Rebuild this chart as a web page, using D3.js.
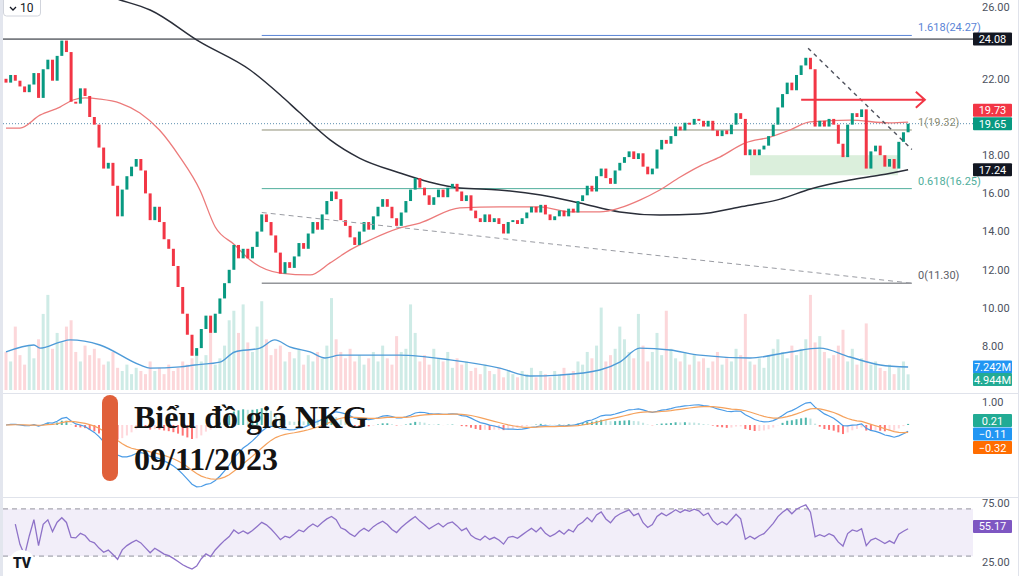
<!DOCTYPE html>
<html>
<head>
<meta charset="utf-8">
<script src="https://cdn.jsdelivr.net/npm/d3@7"></script>
<style>
  html, body { margin: 0; padding: 0; background: #fff; }
  svg { display: block; font-family: Roboto, "Noto Sans", sans-serif; }
</style>
</head>
<body>
<div id="chart"></div>
<script>
// daily closes (open = previous close)
const firstOpen = 22.0;
const closes = [
  21.8, 22.2, 21.9, 21.6, 21.3, 21.7, 22.3, 21.0, 22.5, 23.0,
  21.9, 23.2, 24.0, 23.4, 20.8, 20.7, 21.5, 21.1, 20.0, 19.6,
  18.4, 17.3, 17.6, 16.4, 14.8, 16.2, 16.9, 17.4, 17.8, 17.2,
  16.0, 14.6, 15.3, 14.5, 13.6, 13.1, 12.2, 11.1, 9.7, 8.6,
  7.5, 7.9, 8.9, 9.6, 8.7, 9.7, 10.5, 11.3, 12.0, 13.3,
  12.6, 13.1, 12.6, 13.2, 14.0, 14.9, 14.5, 13.8, 12.9, 11.8,
  12.4, 12.1, 12.7, 13.4, 13.1, 13.9, 14.5, 14.1, 14.9, 15.6,
  16.1, 15.7, 14.6, 14.3, 13.7, 13.3, 14.0, 14.5, 14.1, 14.8,
  15.3, 15.7, 15.3, 14.7, 14.3, 15.0, 15.6, 16.2, 16.8, 16.3,
  15.9, 15.4, 15.8, 16.2, 15.8, 16.3, 16.5, 16.1, 15.6, 15.9,
  15.1, 14.7, 14.5, 14.9, 14.5, 14.7, 14.4, 13.9, 14.5, 14.6,
  14.4, 14.7, 15.0, 15.3, 15.0, 15.4, 14.9, 14.6, 14.8, 15.1,
  14.8, 15.2, 15.0, 15.6, 15.9, 16.4, 16.1, 16.9, 17.3, 16.8,
  16.5, 17.2, 17.6, 17.9, 18.2, 17.8, 18.1, 17.4, 17.0, 17.3,
  18.3, 18.8, 18.6, 19.0, 19.5, 19.3, 19.7, 19.6, 19.9, 19.8,
  19.5, 19.8, 19.3, 19.0, 19.3, 19.1, 19.6, 20.2, 19.9, 18.0,
  18.3, 18.0, 18.3, 18.5, 19.0, 19.6, 20.5, 21.2, 21.8, 21.4,
  22.2, 22.7, 23.1, 22.5, 19.5, 19.8, 19.5, 19.9, 19.6, 18.6,
  17.9, 19.6, 20.2, 20.0, 20.4, 17.3, 18.2, 18.5, 18.0, 17.4,
  17.8, 17.3, 18.7, 19.2, 19.65
];

// volume in millions
const volumes = [
  12, 9, 20, 11, 8, 14, 10, 16, 24, 30,
  13, 18, 15, 20, 22, 12, 9, 14, 11, 13,
  10, 8, 9, 12, 7, 6, 8, 5, 7, 6,
  5, 9, 6, 7, 5, 8, 6, 7, 9, 8,
  10, 12, 9, 11, 19, 8, 10, 14, 22, 25,
  18, 27, 15, 12, 20, 28, 16, 11, 13, 14,
  9, 12, 10, 13, 8, 11, 9, 12, 10, 14,
  29, 16, 12, 10, 13, 9, 11, 8, 10, 12,
  9, 14, 10, 8, 17, 12, 13, 27, 18, 9,
  11, 8, 13, 10, 9, 12, 7, 10, 8, 9,
  6, 7, 5, 8, 6, 5, 7, 4, 6, 5,
  4, 6, 5, 7, 4, 6, 5, 4, 6, 5,
  7, 5, 6, 9, 8, 12, 10, 14, 26, 9,
  11, 13, 20, 16, 12, 10, 24, 14, 9, 12,
  18, 11, 25, 13, 10, 9, 12, 8, 11, 9,
  10, 7, 9, 12, 8, 10, 9, 13, 11, 24,
  9, 8, 10, 7, 11, 13, 16, 12, 10, 14,
  11, 13, 16, 30, 15, 17, 12, 10, 11, 14,
  19, 9, 13, 8, 10, 21, 8, 9, 7, 6,
  8, 5, 7, 9, 4.944
];

// moving averages: [bar index, value]
const maFast = [
  [0, 19.42], [3, 19.42], [7.3, 20.1], [11.6, 20.52], [14.4, 20.89], [17, 21.0],
  [20.2, 20.94], [24.5, 20.73], [28.8, 20.21], [33, 19.32], [37.4, 17.9],
  [41.7, 16.18], [45, 14.24], [49.2, 13.3], [52.5, 12.51], [59, 11.83],
  [65.4, 11.73], [69.7, 12.36], [74, 13.04], [78.3, 13.56], [84.7, 14.19],
  [89, 14.45], [97.6, 15.24], [106.2, 15.29], [114.8, 15.29], [121.3, 15.03],
  [127.7, 15.03], [132, 15.24], [136.3, 15.65], [140.6, 16.18], [145, 16.86],
  [149.2, 17.43], [153.5, 17.9], [159, 18.64], [164.3, 18.95], [168.6, 19.32],
  [172.9, 19.74], [181.5, 19.84], [190, 19.69], [194, 19.73]
];
const maSlow = [
  [18, 26.6], [24.5, 26.13], [31, 25.6], [41.7, 23.93], [52.5, 22.46], [59, 21.15],
  [63, 20.26], [69.7, 18.8], [76, 17.85], [84.7, 17.07], [91, 16.6],
  [97.6, 16.28], [106, 16.18], [115, 15.92], [123.4, 15.5], [132, 15.03],
  [140.6, 14.87], [149, 14.92], [157.8, 15.29], [166.5, 15.7], [173, 16.23],
  [181.5, 16.7], [188, 16.96], [194, 17.24]
];
const volMA = [
  [0, 12.0], [6, 14.2], [7.3, 13.2], [11.6, 15.1], [13.8, 15.8], [20.2, 14.2],
  [28.8, 7.9], [31, 6.9], [37.4, 7.3], [40.6, 7.9], [46, 8.8], [49.2, 12.0],
  [54.6, 13.2], [57.8, 15.8], [61, 13.6], [65.4, 12.0], [68.6, 10.1], [71.8, 11.0],
  [84.7, 11.0], [95.5, 9.5], [106.2, 6.9], [112.7, 4.4], [119, 4.7], [127.7, 6.3],
  [132, 8.8], [136.3, 13.2], [142.8, 12.6], [149.2, 11.0], [160, 10.1],
  [168.6, 12.0], [175, 13.2], [181.5, 10.4], [188, 7.9], [194, 7.242]
];

// fibonacci retracement levels
const fibRatios = ["0", "0.618", "1", "1.618"];
const fibPrices = [11.30, 16.25, 19.32, 24.27];
const fibColors = ["#5d6066", "#4fae9c", "#8f8f76", "#5a84d6"];

// drawings: [bar index, price]
const trendDown = [[172.5, 23.6], [194.8, 18.3]];
const trendBase = [[55, 15.0], [194.8, 11.3]];
const zoneBox = [[160, 18.0], [191.8, 16.95]];
const arrowLine = [[171, 20.9], [197.6, 20.9]];
const resistance = 24.08;

const priceTicks = [26, 22, 18, 16, 14, 12, 10, 8];
const macdTicks = [1.0];
const rsiTicks = [75, 25];
const rsiBand = [70, 30];
const macdTags = [["0.21", "#22ab94"], ["\u22120.11", "#2196f3"], ["\u22120.32", "#ff6d00"]];
const macdTagValues = [0.21, -0.11, -0.32];
const rsiLast = 55.17;
const titleLines = ["Biểu đồ giá NKG", "09/11/2023"];

// ---------------------------------------------------------------
const W = 1024, H = 576;
const up = "#089981", down = "#f23645";

const svg = d3.select("#chart").append("svg")
  .attr("width", W).attr("height", H);

const x = d3.scaleLinear().domain([0, 194]).range([6, 908.1]);
const y = d3.scaleLinear().domain([8, 26]).range([346.2, 2.4]);
const yVol = d3.scaleLinear().domain([0, 30]).range([390, 294.9]);
const yMacd = d3.scaleLinear().domain([0, 1]).range([425, 404]);
const yRsi = d3.scaleLinear().domain([25, 75]).range([562, 503]);

const defs = svg.append("defs");
function clip(id, y0, y1) {
  defs.append("clipPath").attr("id", id)
    .append("rect").attr("x", 3).attr("y", y0).attr("width", 970).attr("height", y1 - y0);
}
clip("cp-price", 0, 392);
clip("cp-macd", 394, 496);
clip("cp-rsi", 498, 576);

// left edge strip and pane separators
svg.append("rect").attr("x", 0).attr("y", 0).attr("width", 3).attr("height", H).attr("fill", "#e3e6ee");
[393.5, 497.5].forEach(v => {
  svg.append("line").attr("x1", 3).attr("x2", 1018).attr("y1", v).attr("y2", v)
    .attr("stroke", "#e0e3eb");
});
svg.append("line").attr("x1", 1018.5).attr("x2", 1018.5).attr("y1", 0).attr("y2", H)
  .attr("stroke", "#e0e3eb");

const opens = closes.map((c, i) => i === 0 ? firstOpen : closes[i - 1]);
const isUp = i => closes[i] >= opens[i];

// ---------- price + volume pane ----------
const pane = svg.append("g").attr("clip-path", "url(#cp-price)");

pane.append("g").selectAll("rect").data(volumes).join("rect")
  .attr("x", (d, i) => x(i) - 1.5)
  .attr("width", 3)
  .attr("y", d => yVol(d))
  .attr("height", d => yVol(0) - yVol(d))
  .attr("fill", (d, i) => isUp(i) ? up : down)
  .attr("opacity", 0.2);

const lineIdx = d3.line().x(d => x(d[0])).curve(d3.curveMonotoneX);

pane.append("path").datum(volMA)
  .attr("d", lineIdx.y(d => yVol(d[1])))
  .attr("fill", "none").attr("stroke", "#4e9bd8").attr("stroke-width", 1.4);

// resistance line + current price dotted line
pane.append("line").attr("x1", 3).attr("x2", 973)
  .attr("y1", y(resistance)).attr("y2", y(resistance))
  .attr("stroke", "#131722").attr("stroke-width", 1);
pane.append("line").attr("x1", 3).attr("x2", 973)
  .attr("y1", y(closes[closes.length - 1])).attr("y2", y(closes[closes.length - 1]))
  .attr("stroke", "#5d8fb0").attr("stroke-width", 1).attr("stroke-dasharray", "1,2");

// fib levels
fibPrices.forEach((p, k) => {
  pane.append("line").attr("x1", x(trendBase[0][0])).attr("x2", x(194.8))
    .attr("y1", y(p)).attr("y2", y(p))
    .attr("stroke", fibColors[k]).attr("stroke-width", 1);
  svg.append("text").attr("x", 918).attr("y", y(p) - 4)
    .attr("font-size", 11).attr("fill", fibColors[k])
    .text(`${fibRatios[k]}(${p.toFixed(2)})`);
});

// zone box
pane.append("rect")
  .attr("x", x(zoneBox[0][0])).attr("width", x(zoneBox[1][0]) - x(zoneBox[0][0]))
  .attr("y", y(zoneBox[0][1])).attr("height", y(zoneBox[1][1]) - y(zoneBox[0][1]))
  .attr("fill", "#4caf50").attr("opacity", 0.2);

// moving averages
const linePrice = d3.line().x(d => x(d[0])).y(d => y(d[1])).curve(d3.curveMonotoneX);
pane.append("path").datum(maSlow).attr("d", linePrice)
  .attr("fill", "none").attr("stroke", "#2a2e39").attr("stroke-width", 1.5);
pane.append("path").datum(maFast).attr("d", linePrice)
  .attr("fill", "none").attr("stroke", "#ec7b7b").attr("stroke-width", 1.3);

// candles
pane.append("g").selectAll("rect").data(closes).join("rect")
  .attr("x", (d, i) => x(i) - 1.5)
  .attr("width", 3)
  .attr("y", (d, i) => y(Math.max(d, opens[i])))
  .attr("height", (d, i) => Math.max(1, Math.abs(y(d) - y(opens[i]))))
  .attr("fill", (d, i) => isUp(i) ? up : down);

// trend lines
const straight = d3.line().x(d => x(d[0])).y(d => y(d[1]));
pane.append("path").datum(trendBase).attr("d", straight)
  .attr("stroke", "#9a9ca3").attr("stroke-width", 1).attr("stroke-dasharray", "5,4").attr("fill", "none");
pane.append("path").datum(trendDown).attr("d", straight)
  .attr("stroke", "#50535e").attr("stroke-width", 1.4).attr("stroke-dasharray", "4,4").attr("fill", "none");

// red arrow
const ax0 = x(arrowLine[0][0]), ax1 = x(arrowLine[1][0]), ay = y(arrowLine[0][1]);
svg.append("path")
  .attr("d", `M${ax0},${ay}H${ax1}M${ax1 - 9},${ay - 8}L${ax1},${ay}L${ax1 - 9},${ay + 8}`)
  .attr("fill", "none").attr("stroke", "#f23645").attr("stroke-width", 2);

// ---------- MACD pane ----------
function ema(arr, n) {
  const k = 2 / (n + 1);
  const out = [];
  arr.forEach((v, i) => out.push(i === 0 ? v : v * k + out[i - 1] * (1 - k)));
  return out;
}
const e12 = ema(closes, 12), e26 = ema(closes, 26);
const macd = closes.map((c, i) => e12[i] - e26[i]);
const signal = ema(macd, 9);
const hist = macd.map((m, i) => m - signal[i]);

const mp = svg.append("g").attr("clip-path", "url(#cp-macd)");
mp.append("g").selectAll("rect").data(hist).join("rect")
  .attr("x", (d, i) => x(i) - 1)
  .attr("width", 2)
  .attr("y", d => Math.min(yMacd(d), yMacd(0)))
  .attr("height", d => Math.abs(yMacd(d) - yMacd(0)))
  .attr("fill", (d, i) => {
    const prev = i > 0 ? hist[i - 1] : d;
    if (d >= 0) return d >= prev ? "#26a69a" : "#b2dfdb";
    return d < prev ? "#ff5252" : "#ffcdd2";
  })
  .attr("opacity", 0.8);
const lineSeries = yS => d3.line().x((d, i) => x(i)).y(d => yS(d));
mp.append("path").datum(macd).attr("d", lineSeries(yMacd))
  .attr("fill", "none").attr("stroke", "#4a9be6").attr("stroke-width", 1.2);
mp.append("path").datum(signal).attr("d", lineSeries(yMacd))
  .attr("fill", "none").attr("stroke", "#f5a25d").attr("stroke-width", 1.2);

// ---------- RSI pane ----------
const rsi = [];
let sg = 0, sl = 0, ag = 0, al = 0;
closes.forEach((c, i) => {
  if (i === 0) { rsi.push(null); return; }
  const ch = c - closes[i - 1];
  const g = Math.max(ch, 0), l = Math.max(-ch, 0);
  if (i <= 14) { sg += g; sl += l; ag = sg / i; al = sl / i; }
  else { ag = (ag * 13 + g) / 14; al = (al * 13 + l) / 14; }
  rsi.push(al === 0 ? 100 : 100 - 100 / (1 + ag / al));
});

const rp = svg.append("g").attr("clip-path", "url(#cp-rsi)");
rp.append("rect").attr("x", 3).attr("width", 970)
  .attr("y", yRsi(rsiBand[0])).attr("height", yRsi(rsiBand[1]) - yRsi(rsiBand[0]))
  .attr("fill", "#7e57c2").attr("opacity", 0.1);
rsiBand.forEach(v => {
  rp.append("line").attr("x1", 3).attr("x2", 973).attr("y1", yRsi(v)).attr("y2", yRsi(v))
    .attr("stroke", "#787b86").attr("stroke-dasharray", "5,4").attr("opacity", 0.8);
});
rp.append("path")
  .datum(rsi.map((v, i) => [i, v]).filter(d => d[0] >= 2))
  .attr("d", d3.line().x(d => x(d[0])).y(d => yRsi(d[1])))
  .attr("fill", "none").attr("stroke", "#8e72c8").attr("stroke-width", 1.3);

// ---------- right scale ----------
const axisG = svg.append("g").attr("font-size", 11).attr("fill", "#4c525e");
priceTicks.forEach(t => axisG.append("text").attr("x", 982).attr("y", Math.max(y(t), 7))
  .attr("dy", "0.35em").text(t.toFixed(2)));
macdTicks.forEach(t => axisG.append("text").attr("x", 982).attr("y", yMacd(t) - 2).attr("dy", "0.35em").text(t.toFixed(2)));
rsiTicks.forEach(t => axisG.append("text").attr("x", 982).attr("y", yRsi(t)).attr("dy", "0.35em").text(t.toFixed(2)));

function tag(cy, label, bg) {
  svg.append("rect").attr("x", 973).attr("y", cy - 6.5).attr("width", 39).attr("height", 13)
    .attr("rx", 1).attr("fill", bg);
  svg.append("text").attr("x", 992.5).attr("y", cy).attr("dy", "0.36em")
    .attr("text-anchor", "middle").attr("font-size", 11).attr("fill", "#fff").text(label);
}
const last = closes.length - 1;
tag(y(resistance), resistance.toFixed(2), "#131722");
tag(y(closes[last]) - 13.5, maFast[maFast.length - 1][1].toFixed(2), "#f23645");
tag(y(closes[last]), closes[last].toFixed(2), "#089981");
tag(y(maSlow[maSlow.length - 1][1]), maSlow[maSlow.length - 1][1].toFixed(2), "#131722");
const vmaLast = volMA[volMA.length - 1][1];
tag(yVol(vmaLast), vmaLast.toFixed(3) + "M", "#2196f3");
tag(Math.max(yVol(volumes[last]), yVol(vmaLast) + 12.5), volumes[last].toFixed(3) + "M", "#22ab94");
let prevY = -Infinity;
macdTagValues.forEach((v, k) => {
  const cy = Math.max(yMacd(v), prevY + 13.5);
  tag(cy, macdTags[k][0], macdTags[k][1]);
  prevY = cy;
});
tag(yRsi(rsiLast), rsiLast.toFixed(2), "#7e57c2");

// ---------- top-left control + logo ----------
svg.append("rect").attr("x", 3.5).attr("y", -4).attr("width", 37).attr("height", 20)
  .attr("rx", 3).attr("fill", "#fff").attr("stroke", "#d1d4dc");
svg.append("path").attr("d", "M10,7L13,10L16,7").attr("fill", "none")
  .attr("stroke", "#131722").attr("stroke-width", 1.3);
svg.append("text").attr("x", 20).attr("y", 12).attr("font-size", 12).attr("fill", "#131722").text("10");
svg.append("circle").attr("cx", 22).attr("cy", 563).attr("r", 13).attr("fill", "#fff");
svg.append("text").attr("x", 22).attr("y", 568).attr("text-anchor", "middle")
  .attr("font-size", 14).attr("font-weight", 900).attr("fill", "#131722").text("TV");

// ---------- title overlay ----------
svg.append("rect").attr("x", 102).attr("y", 395).attr("width", 16).attr("height", 86)
  .attr("rx", 8).attr("fill", "#e0603a");
titleLines.forEach((t, k) => {
  svg.append("text").attr("x", 134).attr("y", 428 + k * 42)
    .attr("font-family", "'Liberation Serif', 'DejaVu Serif', serif")
    .attr("font-weight", "bold").attr("font-size", 32).attr("fill", "#131313").text(t);
});
</script>
</body>
</html>
